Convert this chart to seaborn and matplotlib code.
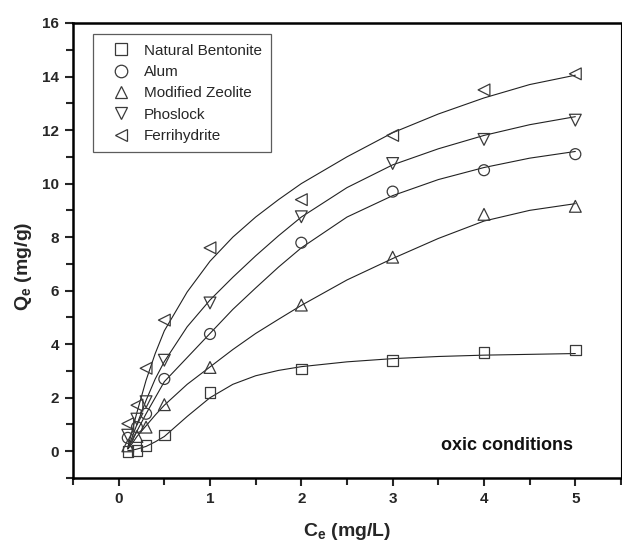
import matplotlib
matplotlib.use("Agg")
import matplotlib.pyplot as plt
from matplotlib.lines import Line2D
from matplotlib.ticker import MultipleLocator
import seaborn as sns
import pandas as pd

# ---------------- data ----------------
ce_points = [0.1, 0.2, 0.3, 0.5, 1, 2, 3, 4, 5]
bentonite_q = [0.0, 0.02, 0.22, 0.6, 2.2, 3.08, 3.4, 3.68, 3.78]
alum_q = [0.5, 0.9, 1.4, 2.7, 4.38, 7.79, 9.7, 10.5, 11.1]
zeolite_q = [0.2, 0.55, 0.9, 1.74, 3.13, 5.46, 7.25, 8.85, 9.15]
phoslock_q = [0.6, 1.2, 1.85, 3.4, 5.54, 8.76, 10.75, 11.65, 12.37]
ferrihydrite_q = [1.03, 1.72, 3.1, 4.9, 7.6, 9.4, 11.8, 13.5, 14.1]

# fitted curves, values
ce_curve = [0.1, 0.15, 0.2, 0.3, 0.4, 0.5, 0.75, 1, 1.25, 1.5, 1.75, 2, 2.5, 3, 3.5, 4, 4.5, 5]
bentonite_fit = [0.02, 0.04, 0.08, 0.18, 0.35, 0.55, 1.3, 2.0, 2.5, 2.82, 3.02, 3.16, 3.34, 3.46, 3.54, 3.59, 3.62, 3.65]
alum_fit = [0.1, 0.4, 0.75, 1.4, 2.0, 2.6, 3.5, 4.4, 5.3, 6.1, 6.88, 7.6, 8.75, 9.55, 10.15, 10.6, 10.95, 11.2]
zeolite_fit = [0.08, 0.3, 0.55, 0.95, 1.35, 1.72, 2.5, 3.15, 3.8, 4.4, 4.93, 5.45, 6.4, 7.2, 7.95, 8.6, 9.0, 9.25]
phoslock_fit = [0.1, 0.55, 1.0, 1.9, 2.7, 3.35, 4.65, 5.65, 6.5, 7.3, 8.05, 8.75, 9.85, 10.7, 11.3, 11.8, 12.2, 12.5]
ferrihydrite_fit = [0.15, 0.8, 1.45, 2.65, 3.65, 4.5, 5.95, 7.1, 8.0, 8.75, 9.4, 10.0, 11.0, 11.9, 12.6, 13.2, 13.7, 14.05]

series_names = ["Natural Bentonite", "Alum", "Modified Zeolite", "Phoslock", "Ferrihydrite"]
series_points = [bentonite_q, alum_q, zeolite_q, phoslock_q, ferrihydrite_q]
series_fits = [bentonite_fit, alum_fit, zeolite_fit, phoslock_fit, ferrihydrite_fit]
series_markers = ["s", "o", "^", "v", "<"]
series_sizes = [58, 62, 72, 72, 72]

x_ticks = [0, 1, 2, 3, 4, 5]
y_ticks = [0, 2, 4, 6, 8, 10, 12, 14, 16]

# ---------------- style ----------------
sns.set_style("ticks")
plt.rcParams["font.family"] = ["Liberation Sans", "DejaVu Sans"]
plt.rcParams["mathtext.fontset"] = "custom"
plt.rcParams["mathtext.rm"] = "Liberation Sans"
plt.rcParams["mathtext.bf"] = "Liberation Sans:bold"
plt.rcParams["mathtext.it"] = "Liberation Sans:italic"

edge_col = "#3a3a3a"
line_col = "#222222"

fig = plt.figure(figsize=(6.22, 5.5), dpi=100)
ax = fig.add_axes([73 / 622, 1 - 478 / 550, (621 - 73) / 622, (478 - 23) / 550])

rows = []
for name, pts in zip(series_names, series_points):
    for xv, yv in zip(ce_points, pts):
        rows.append({"Ce": xv, "Qe": yv, "series": name})
df_pts = pd.DataFrame(rows)

rows = []
for name, fit in zip(series_names, series_fits):
    for xv, yv in zip(ce_curve, fit):
        rows.append({"Ce": xv, "Qe": yv, "series": name})
df_fit = pd.DataFrame(rows)

for name in series_names:
    sub = df_fit[df_fit["series"] == name]
    sns.lineplot(data=sub, x="Ce", y="Qe", ax=ax, color=line_col, lw=0.8,
                 sort=False, estimator=None, legend=False, zorder=2)

for name, mk, sz in zip(series_names, series_markers, series_sizes):
    sub = df_pts[df_pts["series"] == name]
    sns.scatterplot(data=sub, x="Ce", y="Qe", ax=ax, marker=mk, s=sz,
                    facecolor="none", edgecolor=edge_col, linewidth=0.9,
                    legend=False, zorder=3)

ax.set_xlim(-0.5, 5.5)
ax.set_ylim(-1, 16)
ax.set_xticks(x_ticks)
ax.set_yticks(y_ticks)
ax.xaxis.set_minor_locator(MultipleLocator(0.5))
ax.yaxis.set_minor_locator(MultipleLocator(1))
ax.tick_params(axis="both", which="major", direction="out", length=6, width=1.5,
               labelsize=11, pad=4)
ax.tick_params(axis="both", which="minor", direction="out", length=5, width=1.5)
for lab in ax.get_xticklabels() + ax.get_yticklabels():
    lab.set_fontweight("bold")

for side in ["left", "bottom", "top"]:
    ax.spines[side].set_visible(True)
    ax.spines[side].set_linewidth(1.8)
    ax.spines[side].set_color("black")
ax.spines["right"].set_visible(True)
ax.spines["right"].set_linewidth(0.8)
ax.spines["right"].set_color("black")

ax.set_xlabel(r"C$_{\mathbf{e}}$ (mg/L)", fontsize=14, fontweight="bold")
ax.set_ylabel(r"Q$_{\mathbf{e}}$ (mg/g)", fontsize=14, fontweight="bold")
ax.xaxis.set_label_coords(0.5, -0.095)
ax.yaxis.set_label_coords(-0.072, 0.465)

ax.text(4.97, 0.22, "oxic conditions", ha="right", va="center",
        fontsize=13, fontweight="bold", color="#111111")

handles = [Line2D([], [], linestyle="none", marker=mk, markersize=9,
                  markerfacecolor="none", markeredgecolor=edge_col, markeredgewidth=0.9)
           for mk in series_markers]
leg = ax.legend(handles, series_names, loc="upper left",
                bbox_to_anchor=(0.037, 0.975), frameon=True, fancybox=False,
                edgecolor="#333333", fontsize=11, borderpad=0.6,
                handlelength=2.4, handletextpad=0.3, labelspacing=0.48,
                borderaxespad=0.0)
leg.get_frame().set_linewidth(0.9)

fig.savefig("out.png", dpi=100)
